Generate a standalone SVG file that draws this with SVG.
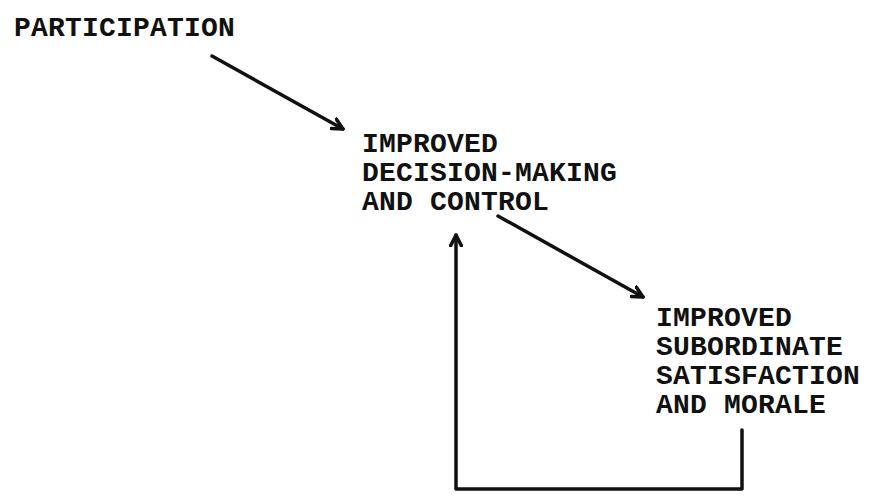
<svg xmlns="http://www.w3.org/2000/svg" width="875" height="498" viewBox="0 0 875 498">
<defs>
<style>
text{font-family:"Liberation Mono","Courier New",monospace;font-size:28px;font-weight:bold;letter-spacing:0.2px;fill:#111}
.c{stroke:#111;stroke-width:3.5;fill:none;stroke-linecap:round;stroke-linejoin:round}
</style>
<marker id="ah" viewBox="0 0 14 14" refX="12" refY="7" markerWidth="14" markerHeight="14" markerUnits="userSpaceOnUse" orient="auto">
<path d="M1,1.5 L12,7 L1,12.5" fill="none" stroke="#111" stroke-width="3.5" stroke-linecap="round" stroke-linejoin="round"/>
</marker>
</defs>
<rect width="875" height="498" fill="#fff"/>
<g id="connectors">
<line class="c" x1="212" y1="56" x2="343" y2="129" marker-end="url(#ah)"/>
<line class="c" x1="498" y1="216" x2="643" y2="297" marker-end="url(#ah)"/>
<polyline class="c" points="742,430 742,489 456,489 456,235" marker-end="url(#ah)"/>
</g>
<g id="participation">
<text x="14" y="36">PARTICIPATION</text>
</g>
<g id="decision">
<text x="362" y="152">IMPROVED</text>
<text x="362" y="181">DECISION-MAKING</text>
<text x="362" y="210">AND CONTROL</text>
</g>
<g id="satisfaction">
<text x="656" y="326">IMPROVED</text>
<text x="656" y="355">SUBORDINATE</text>
<text x="656" y="384">SATISFACTION</text>
<text x="656" y="413">AND MORALE</text>
</g>
</svg>
